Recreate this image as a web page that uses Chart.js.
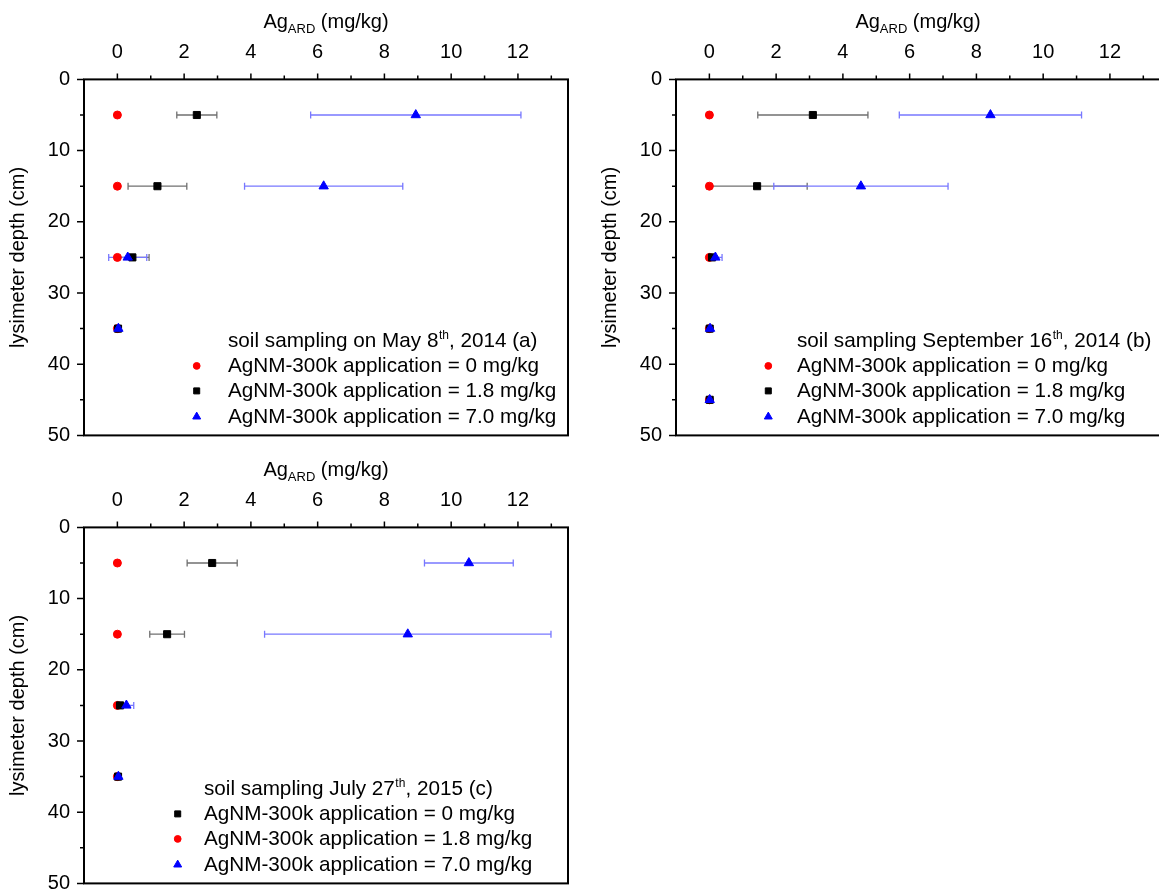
<!DOCTYPE html>
<html><head><meta charset="utf-8">
<script src="https://cdn.jsdelivr.net/npm/chart.js@4/dist/chart.umd.min.js"></script>
<style>
html,body{margin:0;padding:0;background:#fff;overflow:hidden;width:1159px;height:892px;}
.panel{position:absolute;width:590px;height:448px;}
canvas{display:block;}
</style></head><body>
<div class="panel" style="left:0;top:0"><canvas id="ca" width="590" height="448"></canvas></div>
<div class="panel" style="left:592px;top:0"><canvas id="cb" width="590" height="448"></canvas></div>
<div class="panel" style="left:0;top:448px"><canvas id="cc" width="590" height="448"></canvas></div>
<script>
// ---------- data ----------
const depthsA = [5, 15, 25, 35];
const agA_0   = [0, 0, 0, 0];
const errA_0  = [0, 0, 0, 0];
const agA_18  = [2.38, 1.20, 0.45, 0.02];
const errA_18 = [0.60, 0.88, 0.50, 0];
const agA_70  = [8.94, 6.18, 0.31, 0.03];
const errA_70 = [3.15, 2.37, 0.57, 0];

const depthsB = [5, 15, 25, 35, 45];
const agB_0   = [0, 0, 0, 0, 0];
const errB_0  = [0, 0, 0, 0, 0];
const agB_18  = [3.10, 1.43, 0.08, 0.01, 0.01];
const errB_18 = [1.65, 1.50, 0.10, 0, 0];
const agB_70  = [8.42, 4.54, 0.18, 0.02, 0.01];
const errB_70 = [2.73, 2.61, 0.20, 0, 0];

const depthsC = [5, 15, 25, 35];
const agC_0   = [2.84, 1.49, 0.08, 0.02];   // black squares (legend "0 mg/kg")
const errC_0  = [0.75, 0.52, 0.06, 0];
const agC_18  = [0, 0, 0, 0];               // red circles (legend "1.8 mg/kg")
const errC_18 = [0, 0, 0, 0];
const agC_70  = [10.53, 8.70, 0.27, 0.03];
const errC_70 = [1.33, 4.29, 0.22, 0];

const xTickValues  = [0, 2, 4, 6, 8, 10, 12];
const xMinorValues = [0, 1, 2, 3, 4, 5, 6, 7, 8, 9, 10, 11, 12, 13];
const yTickValues  = [0, 10, 20, 30, 40, 50];
const yMinorValues = [0, 5, 10, 15, 20, 25, 30, 35, 40, 45, 50];

const xTitleMain = 'Ag', xTitleSub = 'ARD', xTitleUnit = ' (mg/kg)';
const yTitleText = 'lysimeter depth (cm)';
const seriesLabels = ['AgNM-300k application = 0 mg/kg',
                      'AgNM-300k application = 1.8 mg/kg',
                      'AgNM-300k application = 7.0 mg/kg'];
const captionA = ['soil sampling on May 8', 'th', ', 2014 (a)'];
const captionB = ['soil sampling September 16', 'th', ', 2014 (b)'];
const captionC = ['soil sampling July 27', 'th', ', 2015 (c)'];

// ---------- styles ----------
const FONT = "'Liberation Sans', Arial, sans-serif";
Chart.defaults.font.family = FONT;
Chart.defaults.color = '#000';
const RED   = {color: '#ff0000', pointStyle: 'circle',   radius: 4.0, err: '#ff5050', order: 2};
const BLACK = {color: '#000000', pointStyle: 'rect',     radius: 5.0, err: '#707070', order: 1};
const BLUE  = {color: '#0000ff', pointStyle: 'triangle', radius: 5.4, err: '#7878ff', order: 0};

const errorBars = {
  id: 'errorBars',
  beforeDatasetsDraw(chart) {
    const {ctx, scales: {x, y}} = chart;
    ctx.save();
    ctx.lineWidth = 1.3;
    const idx = chart.data.datasets.map((d, i) => i).sort((a, b) => chart.data.datasets[b].order - chart.data.datasets[a].order);
    idx.forEach(i => {
      const ds = chart.data.datasets[i];
      ctx.strokeStyle = ds.errColor;
      ds.data.forEach((p, j) => {
        const e = ds.errs[j];
        if (!e) return;
        const x1 = x.getPixelForValue(p.x - e), x2 = x.getPixelForValue(p.x + e);
        const py = y.getPixelForValue(p.y);
        ctx.beginPath();
        ctx.moveTo(x1, py); ctx.lineTo(x2, py);
        ctx.moveTo(x1, py - 3.5); ctx.lineTo(x1, py + 3.5);
        ctx.moveTo(x2, py - 3.5); ctx.lineTo(x2, py + 3.5);
        ctx.stroke();
      });
    });
    ctx.restore();
  }
};

const frameAndText = {
  id: 'frameAndText',
  afterDraw(chart, args, opts) {
    const {ctx, chartArea: a, scales: {x, y}} = chart;
    ctx.save();
    ctx.strokeStyle = '#000';
    ctx.lineWidth = 2;
    ctx.strokeRect(a.left, a.top, a.right - a.left, a.bottom - a.top);
    ctx.lineWidth = 1.5;
    ctx.beginPath();
    xMinorValues.forEach(v => {
      const px = x.getPixelForValue(v);
      const len = xTickValues.includes(v) ? 6 : 4;
      ctx.moveTo(px, a.top); ctx.lineTo(px, a.top - len);
    });
    yMinorValues.forEach(v => {
      const py = y.getPixelForValue(v);
      const len = yTickValues.includes(v) ? 7 : 4;
      ctx.moveTo(a.left, py); ctx.lineTo(a.left - len, py);
    });
    ctx.stroke();
    ctx.fillStyle = '#000';
    ctx.textBaseline = 'alphabetic';
    ctx.textAlign = 'left';
    const fMain = '20px ' + FONT, fSub = '13px ' + FONT;
    ctx.font = fMain; const w1 = ctx.measureText(xTitleMain).width, w3 = ctx.measureText(xTitleUnit).width;
    ctx.font = fSub;  const w2 = ctx.measureText(xTitleSub).width;
    let tx = (a.left + a.right) / 2 - (w1 + w2 + w3) / 2;
    const tb = 28;
    ctx.font = fMain; ctx.fillText(xTitleMain, tx, tb); tx += w1;
    ctx.font = fSub;  ctx.fillText(xTitleSub, tx, tb + 5); tx += w2;
    ctx.font = fMain; ctx.fillText(xTitleUnit, tx, tb);
    const L = opts.legend;
    const lf = '20.7px ' + FONT, sf = '12px ' + FONT;
    let lx = a.left + L.textDx;
    const capBase = a.top + 268;
    ctx.font = lf; ctx.fillText(L.caption[0], lx, capBase); lx += ctx.measureText(L.caption[0]).width + 0.5;
    ctx.font = sf; ctx.fillText(L.caption[1], lx, capBase - 8); lx += ctx.measureText(L.caption[1]).width;
    ctx.font = lf; ctx.fillText(L.caption[2], lx, capBase);
    const rowsY = [286.5, 311.5, 337.3];
    L.rows.forEach((r, k) => {
      const sy = a.top + rowsY[k];
      ctx.fillStyle = r.style.color; ctx.strokeStyle = r.style.color; ctx.lineWidth = 1;
      Chart.helpers.drawPoint(ctx, {pointStyle: r.style.pointStyle, radius: r.style.radius * 0.85, rotation: 0, borderWidth: 1},
        a.left + L.symDx, sy);
      ctx.fillStyle = '#000';
      ctx.font = lf;
      ctx.fillText(seriesLabels[r.label], a.left + L.textDx, sy + 6);
    });
    ctx.restore();
  }
};

function makePanel(id, depths, series, legend) {
  const datasets = series.map(s => ({
    label: seriesLabels[s.label],
    data: s.values.map((v, i) => ({x: v, y: depths[i]})),
    errs: s.errs,
    errColor: s.style.err,
    order: s.style.order,
    pointStyle: s.style.pointStyle,
    pointRadius: s.style.radius,
    pointBackgroundColor: s.style.color,
    pointBorderColor: s.style.color,
    pointBorderWidth: 1,
    showLine: false
  }));
  new Chart(document.getElementById(id), {
    type: 'scatter',
    data: {datasets},
    plugins: [errorBars, frameAndText],
    options: {
      responsive: false, animation: false, devicePixelRatio: 1,
      layout: {padding: {left: 0, top: 0, right: 22, bottom: 12.6}},
      plugins: {legend: {display: false}, tooltip: {enabled: false}, frameAndText: {legend}},
      scales: {
        x: {
          type: 'linear', position: 'top', min: -1, max: 13.5,
          afterBuildTicks: s => { s.ticks = xTickValues.map(v => ({value: v})); },
          afterFit: s => { s.height = 79.4; s.paddingLeft = 0; s.paddingRight = 0; },
          grid: {display: false, drawTicks: false}, border: {display: false},
          ticks: {color: '#000', font: {size: 20}, padding: 15, maxRotation: 0, autoSkip: false}
        },
        y: {
          type: 'linear', reverse: true, min: 0, max: 50,
          afterBuildTicks: s => { s.ticks = yTickValues.map(v => ({value: v})); },
          afterFit: s => { s.width = 84; s.paddingTop = 0; s.paddingBottom = 0; },
          grid: {display: false, drawTicks: false}, border: {display: false},
          ticks: {color: '#000', font: {size: 20}, padding: 14, autoSkip: false},
          title: {display: true, text: yTitleText, color: '#000', font: {size: 20}, padding: {top: 6, bottom: 0}}
        }
      }
    }
  });
}

makePanel('ca', depthsA, [
  {label: 0, values: agA_0,  errs: errA_0,  style: RED},
  {label: 1, values: agA_18, errs: errA_18, style: BLACK},
  {label: 2, values: agA_70, errs: errA_70, style: BLUE}
], {textDx: 144, symDx: 112.7, caption: captionA,
    rows: [{label: 0, style: RED}, {label: 1, style: BLACK}, {label: 2, style: BLUE}]});

makePanel('cb', depthsB, [
  {label: 0, values: agB_0,  errs: errB_0,  style: RED},
  {label: 1, values: agB_18, errs: errB_18, style: BLACK},
  {label: 2, values: agB_70, errs: errB_70, style: BLUE}
], {textDx: 121, symDx: 92.3, caption: captionB,
    rows: [{label: 0, style: RED}, {label: 1, style: BLACK}, {label: 2, style: BLUE}]});

makePanel('cc', depthsC, [
  {label: 0, values: agC_0,  errs: errC_0,  style: BLACK},
  {label: 1, values: agC_18, errs: errC_18, style: RED},
  {label: 2, values: agC_70, errs: errC_70, style: BLUE}
], {textDx: 120, symDx: 93.7, caption: captionC,
    rows: [{label: 0, style: BLACK}, {label: 1, style: RED}, {label: 2, style: BLUE}]});
</script>
</body></html>
